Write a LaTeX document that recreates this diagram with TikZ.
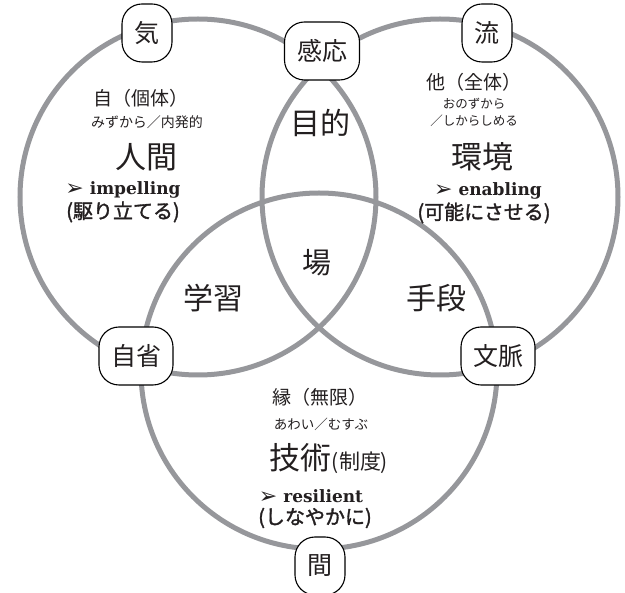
\documentclass[tikz,border=0pt]{standalone}
\usepackage{fontspec}
\newfontfamily\jp{Noto Sans CJK JP}
\newfontfamily\jpb[FakeBold=1.6]{Noto Sans CJK JP}
\newfontfamily\serb{DejaVu Serif}
\newfontfamily\dv{DejaVu Sans}
\definecolor{ringgray}{RGB}{150,151,155}
\definecolor{ink}{RGB}{35,31,32}
\newcommand{\fs}[1]{\fontsize{#1}{#1}\selectfont}
\newcommand{\mk}{{\dv\fs{22}\smash{\raisebox{-1pt}{➢}}}}
\begin{document}
\begin{tikzpicture}[x=1pt,y=-1pt,
  ring/.style={draw=ringgray,line width=5pt},
  tagbox/.style={draw=black,line width=1.1pt,fill=white,rounded corners=20pt,inner sep=0pt,
    minimum height=58pt,font=\jp\fs{25},text=ink},
  txt/.style={inner sep=0pt,text=ink,align=center}]
\useasboundingbox (0,0) rectangle (625,593);
% circles
\draw[ring] (198,197) circle[radius=178];
\draw[ring] (440,197) circle[radius=178];
\draw[ring] (319,371) circle[radius=178];
% tag nodes
\node[tagbox,minimum width=50pt] (ki) at (147,33) {気};
\node[tagbox,minimum width=75pt] (kanno) at (322,51) {感応};
\node[tagbox,minimum width=50pt] (ryu) at (487,33) {流};
\node[tagbox,minimum width=74pt] (jisei) at (136,356) {自省};
\node[tagbox,minimum width=74pt] (bunmyaku) at (498,356) {文脈};
\node[tagbox,minimum width=50pt] (ma) at (320,566) {間};
% left circle texts
\node[txt,font=\jp\fs{19}] (l1) at (141,98) {自（個体）};
\node[txt,font=\jp\fs{14}] (l2) at (147,122) {みずから／内発的};
\node[txt,font=\jp\fs{31}] (l3) at (146,157) {人間};
\node[txt,font=\serb\bfseries\fs{17}] (l4) at (123,190) {\mk\ impelling};
\node[txt,font=\jpb\fs{20}] (l5) at (123,212) {(駆り立てる)};
% right circle texts
\node[txt,font=\jp\fs{19}] (r1) at (474,82) {他（全体）};
\node[txt,font=\jp\fs{12.5}] (r2) at (474,104) {おのずから};
\node[txt,font=\jp\fs{12.5}] (r3) at (474,121) {／しからしめる};
\node[txt,font=\jp\fs{31}] (r4) at (482,157) {環境};
\node[txt,font=\serb\bfseries\fs{17}] (r5) at (488,191) {\mk\ enabling};
\node[txt,font=\jpb\fs{20}] (r6) at (484,213) {(可能にさせる)};
% bottom circle texts
\node[txt,font=\jp\fs{19}] (b1) at (320,397) {縁（無限）};
\node[txt,font=\jp\fs{13.5}] (b2) at (321,424) {あわい／むすぶ};
\node[txt,font=\jp\fs{31}] (b3) at (329,459) {技術{\fs{21}(制度)}};
\node[txt,font=\serb\bfseries\fs{17}] (b4) at (311,496) {\mk\ resilient};
\node[txt,font=\jpb\fs{20}] (b5) at (315,518) {(しなやかに)};
% intersections
\node[txt,font=\jp\fs{30}] (mokuteki) at (320,123) {目的};
\node[txt,font=\jp\fs{29}] (ba) at (317,263) {場};
\node[txt,font=\jp\fs{30}] (gakushu) at (213,298) {学習};
\node[txt,font=\jp\fs{30}] (shudan) at (436,298) {手段};
\end{tikzpicture}
\end{document}
